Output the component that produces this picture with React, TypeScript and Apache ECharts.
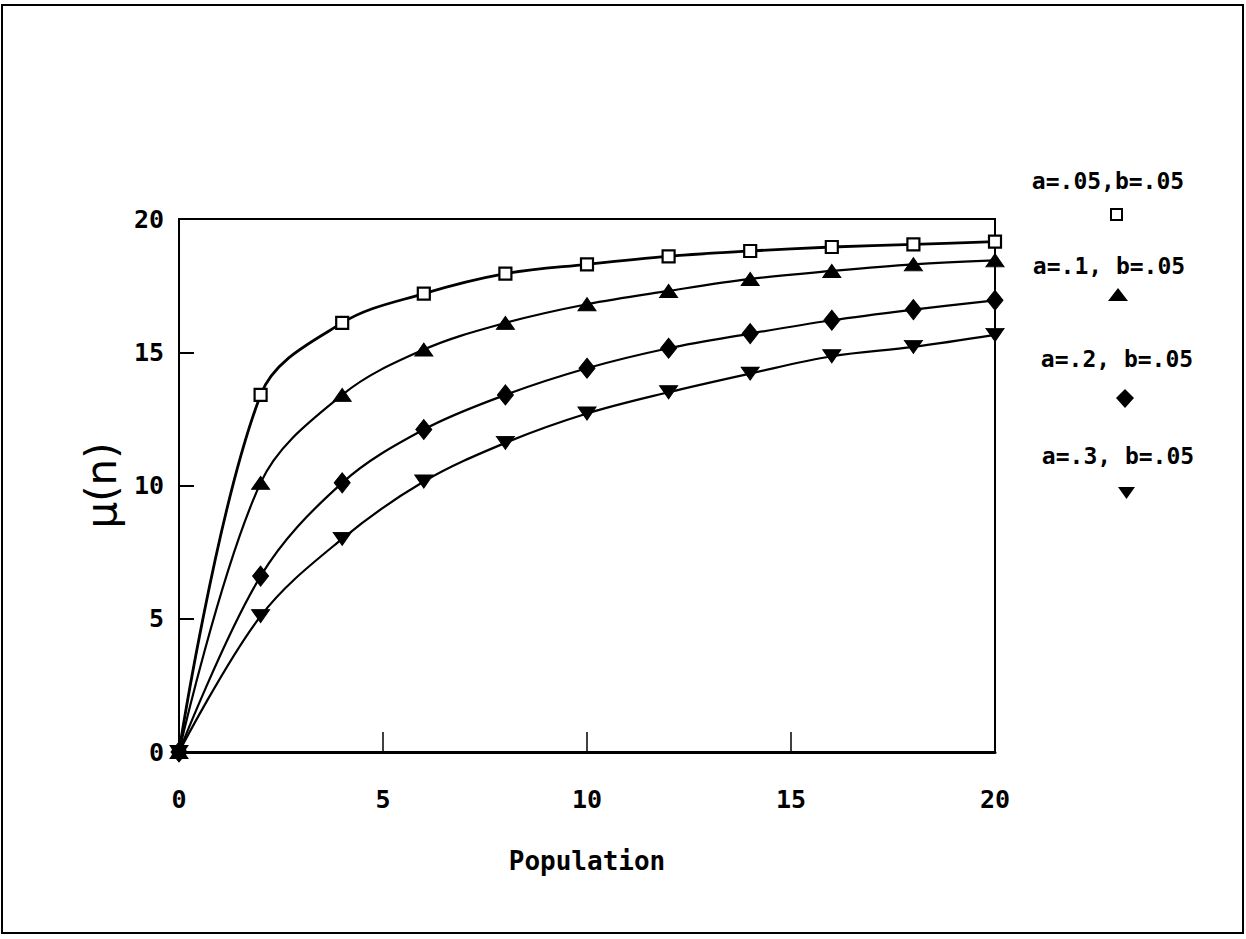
import React, { useEffect, useRef } from "react";
import * as echarts from "echarts";

const populations = [0, 2, 4, 6, 8, 10, 12, 14, 16, 18, 20];
const muA05 = [0, 13.4, 16.1, 17.2, 17.95, 18.3, 18.6, 18.8, 18.95, 19.05, 19.15];
const muA1 = [0, 10.1, 13.4, 15.1, 16.1, 16.8, 17.3, 17.75, 18.05, 18.3, 18.45];
const muA2 = [0, 6.6, 10.1, 12.1, 13.4, 14.4, 15.15, 15.7, 16.2, 16.6, 16.95];
const muA3 = [0, 5.1, 8.0, 10.15, 11.6, 12.7, 13.5, 14.2, 14.85, 15.2, 15.65];
const seriesNames = ["a=.05,b=.05", "a=.1, b=.05", "a=.2, b=.05", "a=.3, b=.05"];
const axisTicks = [0, 5, 10, 15, 20];

const FONT = "'DejaVu Sans Mono', monospace";

export default function App() {
  const ref = useRef<HTMLDivElement>(null);
  useEffect(() => {
    document.body.style.margin = "0";
    const chart = echarts.init(ref.current!, null, { renderer: "svg" });
    const pairs = (ys: number[]) => populations.map((x, i) => [x, ys[i]]);
    const base = {
      type: "line",
      smooth: 0.35,
      color: "#000",
      lineStyle: { color: "#000", width: 2.2 },
      itemStyle: { color: "#000", borderColor: "#000" },
    };
    const tickMax = axisTicks[axisTicks.length - 1];
    chart.setOption({
      animation: false,
      backgroundColor: "#fff",
      grid: {
        left: 179,
        right: 251,
        top: 219,
        bottom: 187,
        show: true,
        borderColor: "#000",
        borderWidth: 2,
      },
      xAxis: {
        type: "value",
        min: 0,
        max: tickMax,
        interval: 5,
        name: "Population",
        nameLocation: "middle",
        nameGap: 96,
        nameTextStyle: { fontFamily: FONT, fontSize: 26, fontWeight: "bold", color: "#000" },
        axisLine: { show: true, lineStyle: { color: "#000", width: 3 } },
        axisTick: { show: true, inside: true, length: 20, lineStyle: { color: "#000", width: 1.5 } },
        axisLabel: { margin: 35, fontFamily: FONT, fontSize: 25, fontWeight: "bold", color: "#000" },
        splitLine: { show: false },
      },
      yAxis: {
        type: "value",
        min: 0,
        max: tickMax,
        interval: 5,
        name: "μ(n)",
        nameLocation: "middle",
        nameGap: 52,
        nameRotate: 90,
        nameTextStyle: { fontFamily: "'DejaVu Sans', sans-serif", fontSize: 42, color: "#000" },
        axisLine: { show: true, lineStyle: { color: "#000", width: 2 } },
        axisTick: { show: true, inside: true, length: 15, lineStyle: { color: "#000", width: 2 } },
        axisLabel: { margin: 15, fontFamily: FONT, fontSize: 25, fontWeight: "bold", color: "#000" },
        splitLine: { show: false },
      },
      series: [
        {
          ...base,
          name: seriesNames[0],
          data: pairs(muA05),
          symbol: "rect",
          symbolSize: 12,
          lineStyle: { color: "#000", width: 2.8 },
          itemStyle: { color: "#fff", borderColor: "#000", borderWidth: 2.2 },
        },
        { ...base, name: seriesNames[1], data: pairs(muA1), symbol: "triangle", symbolSize: [18, 13] },
        { ...base, name: seriesNames[2], data: pairs(muA2), symbol: "diamond", symbolSize: [16, 20] },
        {
          ...base,
          name: seriesNames[3],
          data: pairs(muA3),
          symbol: "triangle",
          symbolRotate: 180,
          symbolSize: [18, 13],
        },
      ],
      graphic: [
        {
          type: "rect",
          shape: { x: 2, y: 5, width: 1241, height: 928 },
          style: { fill: "none", stroke: "#000", lineWidth: 2 },
          silent: true,
        },
        {
          type: "text",
          x: 1108,
          y: 181,
          style: { text: seriesNames[0], font: `bold 23px ${FONT}`, fill: "#000", align: "center", verticalAlign: "middle" },
        },
        {
          type: "rect",
          shape: { x: 1111, y: 209, width: 11, height: 11 },
          style: { fill: "#fff", stroke: "#000", lineWidth: 2 },
        },
        {
          type: "text",
          x: 1109,
          y: 266,
          style: { text: seriesNames[1], font: `bold 23px ${FONT}`, fill: "#000", align: "center", verticalAlign: "middle" },
        },
        {
          type: "polygon",
          shape: { points: [[1118, 288], [1128, 301], [1108, 301]] },
          style: { fill: "#000" },
        },
        {
          type: "text",
          x: 1117,
          y: 359,
          style: { text: seriesNames[2], font: `bold 23px ${FONT}`, fill: "#000", align: "center", verticalAlign: "middle" },
        },
        {
          type: "polygon",
          shape: { points: [[1125, 389], [1134, 398], [1125, 408], [1116, 398]] },
          style: { fill: "#000" },
        },
        {
          type: "text",
          x: 1118,
          y: 456,
          style: { text: seriesNames[3], font: `bold 23px ${FONT}`, fill: "#000", align: "center", verticalAlign: "middle" },
        },
        {
          type: "polygon",
          shape: { points: [[1118, 487], [1135, 487], [1126.5, 499]] },
          style: { fill: "#000" },
        },
      ],
    });
    return () => chart.dispose();
  }, []);
  return <div ref={ref} style={{ width: 1246, height: 939 }} />;
}
